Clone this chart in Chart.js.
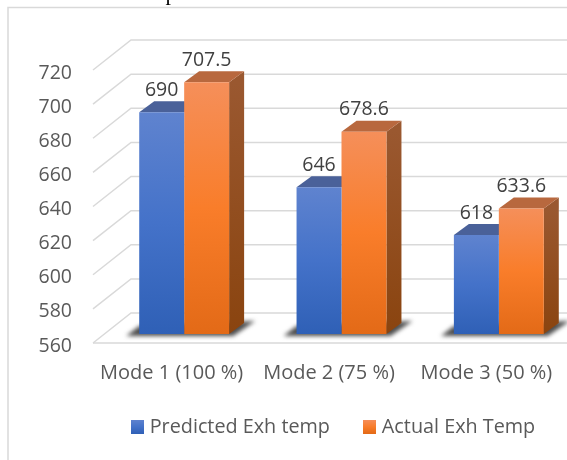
<!DOCTYPE html>
<html>
<head>
<meta charset="utf-8">
<style>html,body{margin:0;padding:0;background:#fff}canvas{display:block}</style>
<script src="https://cdn.jsdelivr.net/npm/chart.js@4"></script>
</head>
<body>
<canvas id="c" width="567" height="460"></canvas>
<script>
const categories = ["Mode 1 (100 %)", "Mode 2 (75 %)", "Mode 3 (50 %)"];
const predicted = [690, 646, 618];
const actual = [707.5, 678.6, 633.6];
const seriesNames = ["Predicted Exh temp", "Actual Exh Temp"];
const yMin = 560, yMax = 720, yStep = 20;

const FONT = '"Open Sans"';
const FS = 19.5, FS_X = 20, FS_LEGEND = 19.8;
const blueStops = ['#5f83cf', '#4472c9', '#2f60b6'];
const orangeStops = ['#f58f5a', '#f97d2a', '#e36a17'];
const blueTop = '#4a6199', orangeTop = '#b8683e';
const orangeSideA = '#9a5830', orangeSideB = '#8a440f';
const WALL = {dx: 38, dy: 30};
const BAR = {sx: 12.5, sy: -9, dx: 15, dy: 11};

function vGrad(ctx, top, bottom, stops) {
  const g = ctx.createLinearGradient(0, top, 0, bottom);
  g.addColorStop(0, stops[0]); g.addColorStop(0.5, stops[1]); g.addColorStop(1, stops[2]);
  return g;
}
function swatch(stops) {
  const s = document.createElement('canvas');
  s.width = 13; s.height = 14;
  const c = s.getContext('2d');
  c.fillStyle = vGrad(c, 0, 14, stops);
  c.fillRect(0, 0, 13, 14);
  return s;
}
function barFill(stops) {
  return (ctx) => {
    const chart = ctx.chart, y = chart.scales.y;
    if (ctx.type !== 'data' || !y) return stops[1];
    const top = y.getPixelForValue(ctx.raw), bottom = y.getPixelForValue(yMin);
    if (!Number.isFinite(top) || !Number.isFinite(bottom)) return stops[1];
    return vGrad(chart.ctx, top, bottom, stops);
  };
}
function poly(ctx, pts, fill) {
  ctx.beginPath();
  pts.forEach((p, i) => i ? ctx.lineTo(p[0], p[1]) : ctx.moveTo(p[0], p[1]));
  ctx.closePath();
  ctx.fillStyle = fill;
  ctx.fill();
}

const scene3d = {
  id: 'scene3d',
  afterLayout(chart) {
    const lg = chart.legend;
    const shift = 335 - (lg.left + lg.right) / 2;
    lg.left += shift; lg.right += shift;
    lg.top = 380;
  },
  beforeDatasetsDraw(chart) {
    const {ctx, chartArea: a, scales: {y}} = chart;
    ctx.save();
    // page frame + clipped glyph of the surrounding document
    ctx.strokeStyle = '#d9d9d9'; ctx.lineWidth = 1.5;
    ctx.beginPath(); ctx.moveTo(567, 7.5); ctx.lineTo(8, 7.5); ctx.lineTo(8, 460); ctx.stroke();
    ctx.fillStyle = '#000'; ctx.font = '22px "Liberation Serif"'; ctx.textAlign = 'center'; ctx.textBaseline = 'alphabetic';
    ctx.fillText('p', 171, 0);
    // walls
    ctx.strokeStyle = '#d9d9d9'; ctx.lineWidth = 1.5;
    y.ticks.forEach(t => {
      const py = y.getPixelForValue(t.value);
      ctx.beginPath();
      ctx.moveTo(a.left, py);
      ctx.lineTo(a.left + WALL.dx, py - WALL.dy);
      ctx.lineTo(a.right + WALL.dx, py - WALL.dy);
      ctx.stroke();
    });
    const py0 = y.getPixelForValue(yMin);
    ctx.beginPath(); ctx.moveTo(a.left, py0); ctx.lineTo(a.right + 5, py0); ctx.stroke();

    const first = chart.getDatasetMeta(0).data, second = chart.getDatasetMeta(1).data;
    // floor shadows
    first.forEach((b, i) => {
      const o = second[i];
      const lx = b.x - b.width / 2 + BAR.sx, rx = o.x + o.width / 2 + BAR.sx, by = py0 + BAR.sy;
      ctx.save();
      ctx.filter = 'blur(2px)';
      poly(ctx, [[lx - 13, by + 2], [lx, by - 8], [rx + 26, by - 13], [rx + 4, by + 2]], '#4d4d4d');
      ctx.restore();
    });
    // depth faces
    [[first, blueTop, null], [second, orangeTop, true]].forEach(([bars, topCol, hasSide]) => {
      bars.forEach(b => {
        const l = b.x - b.width / 2 + BAR.sx, r = b.x + b.width / 2 + BAR.sx;
        const t = b.y + BAR.sy, bt = py0 + BAR.sy;
        if (hasSide) {
          const g = ctx.createLinearGradient(0, t, 0, bt);
          g.addColorStop(0, orangeSideA); g.addColorStop(1, orangeSideB);
          poly(ctx, [[r, t], [r + BAR.dx, t - BAR.dy], [r + BAR.dx, bt - BAR.dy], [r, bt]], g);
        }
        poly(ctx, [[l, t], [l + BAR.dx, t - BAR.dy], [r + BAR.dx, t - BAR.dy], [r, t]], topCol);
      });
    });
    ctx.restore();
  },
  beforeDatasetDraw(chart) {
    chart.ctx.save();
    chart.ctx.translate(BAR.sx, BAR.sy);
  },
  afterDatasetDraw(chart) {
    chart.ctx.restore();
  },
  afterDatasetsDraw(chart) {
    const {ctx} = chart;
    ctx.save();
    ctx.font = FS + 'px ' + FONT;
    ctx.fillStyle = '#404040';
    ctx.textAlign = 'center';
    ctx.textBaseline = 'middle';
    chart.data.datasets.forEach((ds, k) => {
      chart.getDatasetMeta(k).data.forEach((b, i) => {
        ctx.fillText(String(ds.data[i]), b.x + BAR.sx, b.y + BAR.sy - 22);
      });
    });
    ctx.restore();
  }
};

const swatches = [swatch(blueStops), swatch(orangeStops)];

new Chart(document.getElementById('c'), {
  type: 'bar',
  data: {
    labels: categories,
    datasets: [
      {label: seriesNames[0], data: predicted, backgroundColor: barFill(blueStops), borderWidth: 0},
      {label: seriesNames[1], data: actual, backgroundColor: barFill(orangeStops), borderWidth: 0}
    ]
  },
  plugins: [scene3d],
  options: {
    responsive: false,
    animation: false,
    devicePixelRatio: 1,
    layout: {padding: {top: 70, right: 2, left: 0, bottom: 0}},
    datasets: {bar: {categoryPercentage: 0.5714, barPercentage: 1}},
    scales: {
      x: {
        grid: {display: false},
        border: {display: false},
        ticks: {color: '#595959', font: {family: FONT, size: FS_X}, padding: 10, maxRotation: 0, autoSkip: false},
        afterFit(s) { s.height = 117 - s.chart.legend.height; }
      },
      y: {
        min: yMin, max: yMax,
        grid: {display: false, drawTicks: false},
        border: {display: false},
        ticks: {stepSize: yStep, color: '#595959', font: {family: FONT, size: FS}, padding: 21, labelOffset: 3},
        afterFit(s) { s.width = 93; }
      }
    },
    plugins: {
      tooltip: {enabled: false},
      legend: {
        position: 'bottom',
        labels: {
          color: '#595959',
          font: {family: FONT, size: FS_LEGEND},
          usePointStyle: true,
          boxWidth: 5, boxHeight: 5,
          padding: 37,
          generateLabels(chart) {
            return Chart.defaults.plugins.legend.labels.generateLabels(chart).map((it, i) => {
              it.pointStyle = swatches[i];
              return it;
            });
          }
        }
      }
    }
  }
});
</script>
</body>
</html>
